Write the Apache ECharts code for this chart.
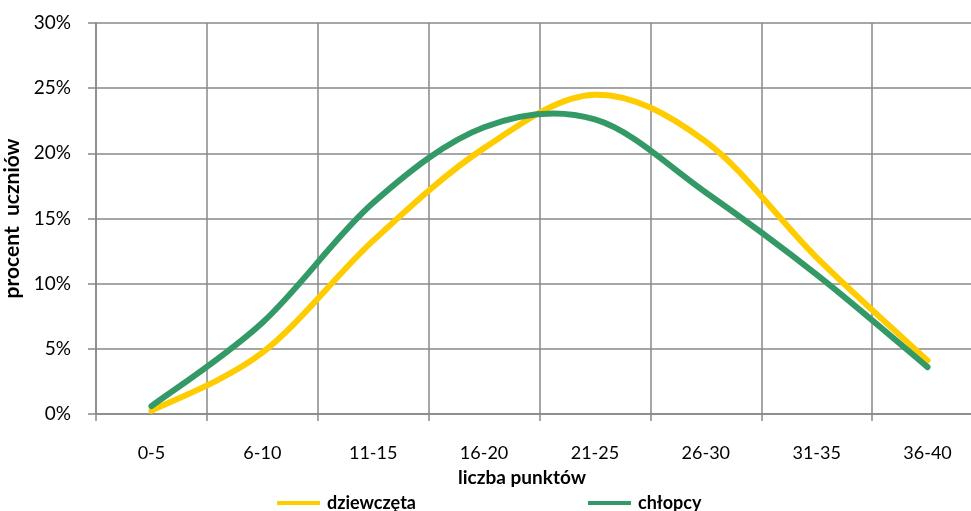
<!DOCTYPE html>
<html><head><meta charset="utf-8">
<script src="https://cdn.jsdelivr.net/npm/echarts@6/dist/echarts.min.js"></script>
<style>html,body{margin:0;padding:0;background:#fff;overflow:hidden}#c{width:983px;height:511px}</style>
</head><body><div id="c"></div>
<script>
const categories = ['0-5','6-10','11-15','16-20','21-25','26-30','31-35','36-40'];
const girls = [0.25, 4.7, 13.3, 20.4, 24.5, 20.9, 12.0, 4.1];
const boys  = [0.6, 7.0, 16.2, 22.0, 22.6, 17.0, 10.7, 3.6];
const yTicks = [0, 5, 10, 15, 20, 25, 30];

const font = 'Lato, "Open Sans", sans-serif';
const GIRLS_COLOR = '#FFCC00', BOYS_COLOR = '#339966';

// Smooth curve (Catmull-Rom, as in spreadsheet "smoothed line"), positioned via the axes
function smoothSeries(name, values, color) {
  return {
    name, type: 'custom', data: [0], color, itemStyle: {color},
    renderItem: function (params, api) {
      if (params.dataIndex !== 0) return null;
      const pts = values.map((v, i) => api.coord([i, v]));
      let d = 'M' + pts[0][0] + ',' + pts[0][1];
      for (let i = 0; i < pts.length - 1; i++) {
        const p0 = pts[i - 1] || pts[i], p1 = pts[i], p2 = pts[i + 1], p3 = pts[i + 2] || pts[i + 1];
        const c1x = p1[0] + (p2[0] - p0[0]) / 6, c1y = p1[1] + (p2[1] - p0[1]) / 6;
        const c2x = p2[0] - (p3[0] - p1[0]) / 6, c2y = p2[1] - (p3[1] - p1[1]) / 6;
        d += ' C' + c1x + ',' + c1y + ' ' + c2x + ',' + c2y + ' ' + p2[0] + ',' + p2[1];
      }
      return {type: 'path', shape: {pathData: d},
        style: {fill: null, stroke: color, lineWidth: 6, lineCap: 'round', lineJoin: 'round'}};
    }
  };
}

const chart = echarts.init(document.getElementById('c'));
chart.setOption({
  animation: false,
  backgroundColor: '#fff',
  textStyle: {fontFamily: font},
  grid: {left: 96, top: 23, right: 0, height: 391, containLabel: false, outerBoundsMode: 'none'},
  legend: {
    left: 272, top: 489, itemGap: 172, itemWidth: 43, itemHeight: 4, icon: 'rect',
    textStyle: {fontFamily: font, fontWeight: 'bold', fontSize: 18, color: '#000', padding:[0,0,0,2]},
    data: ['dziewczęta', 'chłopcy']
  },
  xAxis: {
    type: 'category', data: categories, boundaryGap: true,
    name: 'liczba punktów', nameLocation: 'middle', nameGap: 54,
    nameTextStyle: {fontFamily: font, fontWeight: 'bold', fontSize: 19, color: '#000', padding: [0, 35, 0, 0]},
    axisLine: {lineStyle: {color: '#888', width: 1.5}},
    axisTick: {show: true, length: 7, alignWithLabel: false, lineStyle: {color: '#888', width: 1.5}},
    axisLabel: {fontFamily: font, fontSize: 18, color: '#000', margin: 30},
    splitLine: {show: true, lineStyle: {color: '#888', width: 1.5}}
  },
  yAxis: {
    type: 'value', min: 0, max: 30, interval: 5,
    name: 'procent  uczniów', nameLocation: 'middle', nameGap: 66, nameRotate: 90,
    nameTextStyle: {fontFamily: font, fontWeight: 'bold', fontSize: 21, color: '#000'},
    axisLine: {show: true, lineStyle: {color: '#888', width: 1.5}},
    axisTick: {show: true, length: 8, lineStyle: {color: '#888', width: 1.5}},
    axisLabel: {fontFamily: font, fontSize: 19, color: '#000', margin: 25,
      formatter: v => yTicks.includes(v) ? v + '%' : ''},
    splitLine: {show: true, lineStyle: {color: '#888', width: 1.5}}
  },
  series: [
    smoothSeries('dziewczęta', girls, GIRLS_COLOR),
    smoothSeries('chłopcy', boys, BOYS_COLOR)
  ]
});
</script></body></html>
